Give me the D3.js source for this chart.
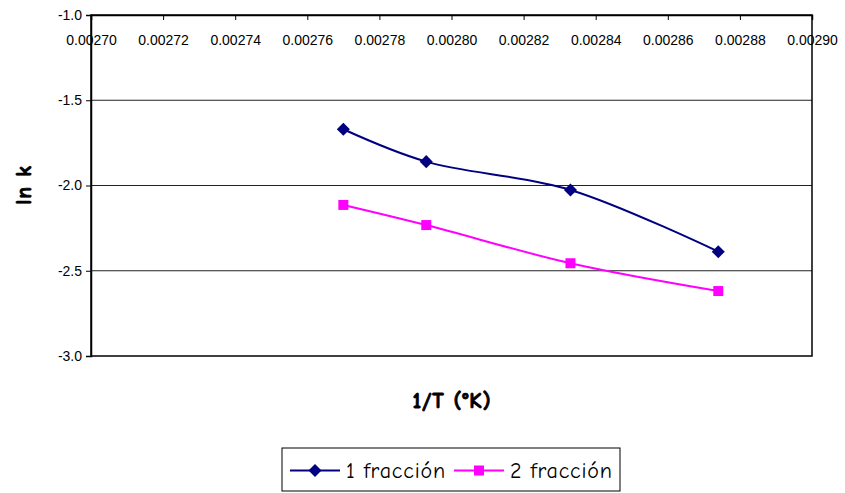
<!DOCTYPE html>
<html>
<head>
<meta charset="utf-8">
<script src="https://cdn.jsdelivr.net/npm/d3@7"></script>
<style>
  html, body { margin: 0; padding: 0; background: #fff; }
  svg { display: block; }
</style>
</head>
<body>
<svg id="chart" width="845" height="493"></svg>
<script>
// Arrhenius plot data: 1/T against ln k for two fractions
const invT = [0.002770, 0.002793, 0.002833, 0.002874];
const lnK1 = [-1.670, -1.860, -2.026, -2.388];
const lnK2 = [-2.114, -2.232, -2.456, -2.619];
const seriesNames = ["1 fracción", "2 fracción"];
const xTicks = [0.00270, 0.00272, 0.00274, 0.00276, 0.00278, 0.00280, 0.00282, 0.00284, 0.00286, 0.00288, 0.00290];
const yTicks = [-1.0, -1.5, -2.0, -2.5, -3.0];

const svg = d3.select("#chart");
const plot = { left: 91, right: 812, top: 15, bottom: 356 };

const x = d3.scaleLinear().domain([0.00270, 0.00290]).range([plot.left, plot.right]);
const y = d3.scaleLinear().domain([-3.0, -1.0]).range([plot.bottom, plot.top]);

const tickFont = "'Liberation Sans', Arial, sans-serif";
const titleFont = "'Comic Sans MS', 'Comic Neue', 'DejaVu Sans', sans-serif";
const hyphenFmt = f => v => f(v).replace("\u2212", "-");

// horizontal gridlines
svg.append("g")
  .selectAll("line")
  .data(yTicks.filter(v => v > -3.0 && v < -1.0))
  .join("line")
  .attr("x1", plot.left).attr("x2", plot.right)
  .attr("y1", d => y(d)).attr("y2", d => y(d))
  .attr("stroke", "#222").attr("stroke-width", 1);

// plot frame
svg.append("rect")
  .attr("x", plot.left).attr("y", plot.top)
  .attr("width", plot.right - plot.left).attr("height", plot.bottom - plot.top)
  .attr("fill", "none").attr("stroke", "#000").attr("stroke-width", 1.5);

// x axis sits on the top edge (crosses at ln k = -1.0)
const xAxis = d3.axisBottom(x)
  .tickValues(xTicks)
  .tickSize(5)
  .tickPadding(15)
  .tickFormat(d3.format(".5f"));
const gx = svg.append("g")
  .attr("transform", `translate(0,${y(-1.0)})`)
  .call(xAxis);
gx.attr("font-size", null).attr("font-family", null);
gx.select(".domain").attr("stroke", "#000").attr("stroke-width", 1.5);
gx.selectAll(".tick line").attr("stroke", "#000");
gx.selectAll(".tick text")
  .style("font-family", tickFont).style("font-size", "14px").attr("fill", "#000");

// y axis
const yAxis = d3.axisLeft(y)
  .tickValues(yTicks)
  .tickSize(5)
  .tickPadding(4)
  .tickFormat(hyphenFmt(d3.format(".1f")));
const gy = svg.append("g")
  .attr("transform", `translate(${plot.left},0)`)
  .call(yAxis);
gy.attr("font-size", null).attr("font-family", null);
gy.select(".domain").attr("stroke", "#000").attr("stroke-width", 1.5);
gy.selectAll(".tick line").attr("stroke", "#000");
gy.selectAll(".tick text")
  .style("font-family", tickFont).style("font-size", "14px").attr("fill", "#000");

// axis titles (bold, with a thin outline for extra weight)
function boldTitle(sel) {
  return sel.attr("text-anchor", "middle")
    .style("font-family", titleFont).style("font-weight", "bold").style("font-size", "22px")
    .style("letter-spacing", "1px")
    .attr("fill", "#000").attr("stroke", "#000").attr("stroke-width", 0.8);
}
svg.append("text")
  .attr("transform", "translate(31,185) rotate(-90)")
  .call(boldTitle)
  .text("ln k");

svg.append("text")
  .attr("x", 452).attr("y", 408)
  .call(boldTitle)
  .text("1/T (°K)");

// series
const series = [
  { name: seriesNames[0], values: lnK1, color: "#000080", marker: d3.symbolSquare, size: 85, rotate: 45 },
  { name: seriesNames[1], values: lnK2, color: "#FF00FF", marker: d3.symbolSquare, size: 100, rotate: 0 }
];

const line = d3.line()
  .x(d => x(d[0])).y(d => y(d[1]))
  .curve(d3.curveCatmullRom.alpha(0.5));

series.forEach(s => {
  const pts = invT.map((t, i) => [t, s.values[i]]);
  svg.append("path")
    .datum(pts)
    .attr("d", line)
    .attr("fill", "none").attr("stroke", s.color).attr("stroke-width", 2);
  svg.append("g")
    .selectAll("path")
    .data(pts)
    .join("path")
    .attr("transform", d => `translate(${x(d[0])},${y(d[1])}) rotate(${s.rotate})`)
    .attr("d", d3.symbol().type(s.marker).size(s.size))
    .attr("fill", s.color);
});

// legend
const legend = svg.append("g");
legend.append("rect")
  .attr("x", 282).attr("y", 448).attr("width", 338).attr("height", 43)
  .attr("fill", "#fff").attr("stroke", "#000").attr("stroke-width", 1);

const legendPos = [{ x0: 290, text: 346 }, { x0: 454, text: 510 }];
series.forEach((s, i) => {
  const p = legendPos[i];
  const ly = 470.5;
  legend.append("line")
    .attr("x1", p.x0).attr("x2", p.x0 + 50)
    .attr("y1", ly).attr("y2", ly)
    .attr("stroke", s.color).attr("stroke-width", 2);
  legend.append("path")
    .attr("transform", `translate(${p.x0 + 25},${ly}) rotate(${s.rotate})`)
    .attr("d", d3.symbol().type(s.marker).size(s.size))
    .attr("fill", s.color);
  legend.append("text")
    .attr("x", p.text).attr("y", ly + 7)
    .style("font-family", titleFont).style("font-size", "22px")
    .style("letter-spacing", "0.8px")
    .text(s.name);
});
</script>
</body>
</html>
